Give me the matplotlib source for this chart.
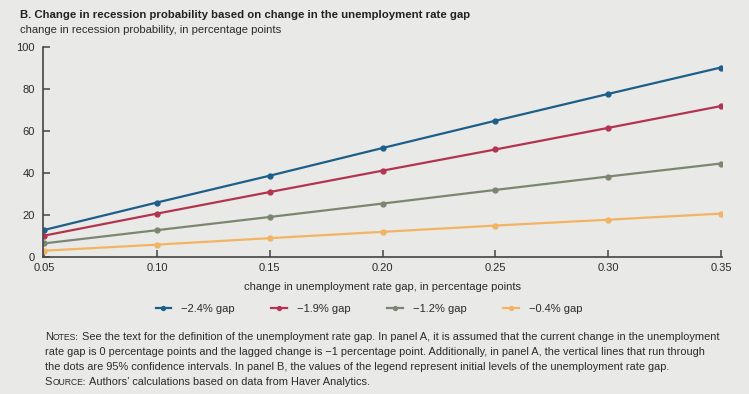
import matplotlib.pyplot as plt
from matplotlib import font_manager

# data
x_change = [0.05, 0.10, 0.15, 0.20, 0.25, 0.30, 0.35]
gap_24 = [12.9, 26.0, 38.8, 52.0, 65.0, 77.8, 90.4]
gap_19 = [10.2, 20.7, 31.0, 41.2, 51.3, 61.6, 72.0]
gap_12 = [6.5, 12.8, 19.1, 25.5, 32.0, 38.4, 44.6]
gap_04 = [3.0, 5.9, 9.0, 12.0, 15.0, 17.8, 20.7]
labels = ['\u22122.4% gap', '\u22121.9% gap', '\u22121.2% gap', '\u22120.4% gap']
colors = ['#1d5f8a', '#b3344f', '#7b8670', '#f2b463']
xticks = [0.05, 0.10, 0.15, 0.20, 0.25, 0.30, 0.35]
yticks = [0, 20, 40, 60, 80, 100]

bg = '#e9e9e7'
ink = '#2b2b2b'
names = {f.name for f in font_manager.fontManager.ttflist}
narrow = 'Liberation Sans Narrow' if 'Liberation Sans Narrow' in names else 'Liberation Sans'
plt.rcParams['font.family'] = ['Liberation Sans', 'DejaVu Sans']

fig = plt.figure(figsize=(7.49, 3.94), dpi=100, facecolor=bg)
ax = fig.add_axes([0.0575, 0.3477, 0.9065, 0.532])
ax.set_facecolor(bg)

for ys, lab, c in zip([gap_24, gap_19, gap_12, gap_04], labels, colors):
    ax.plot(x_change, ys, color=c, lw=1.6, marker='o', ms=3.5, label=lab)

ax.set_xlim(0.0495, 0.3505)
ax.set_ylim(0, 100)
ax.set_xticks(xticks)
ax.set_xticklabels([f'{t:.2f}' for t in xticks])
ax.set_yticks(yticks)
for s in ['top', 'right']:
    ax.spines[s].set_visible(False)
for s in ['left', 'bottom']:
    ax.spines[s].set_color('#444444')
    ax.spines[s].set_linewidth(1.2)
ax.tick_params(direction='in', length=5, width=1.1, color='#444444',
               labelsize=8, labelcolor=ink, pad=4)
ax.tick_params(axis='y', pad=6)
ax.set_xlabel('change in unemployment rate gap, in percentage points',
              fontsize=8, color=ink, labelpad=7)

leg = ax.legend(loc='upper center', bbox_to_anchor=(0.48, -0.175), ncol=4, frameon=False,
                fontsize=8, handlelength=1.4, handletextpad=0.9, columnspacing=3.3,
                labelcolor=ink, markerscale=0.8)

fig.text(0.027, 0.955, 'B. Change in recession probability based on change in the unemployment rate gap',
         fontsize=8.2, fontweight='bold', color='#222222')
fig.text(0.027, 0.915, 'change in recession probability, in percentage points',
         fontsize=8.1, color=ink)

# notes with small-caps style prefix
r = fig.canvas.get_renderer()
notes = ['See the text for the definition of the unemployment rate gap. In panel A, it is assumed that the current change in the unemployment',
         'rate gap is 0 percentage points and the lagged change is \u22121 percentage point. Additionally, in panel A, the vertical lines that run through',
         'the dots are 95% confidence intervals. In panel B, the values of the legend represent initial levels of the unemployment rate gap.']
nfs = 7.9
x0 = 0.06
def smallcaps(word, y):
    t1 = fig.text(x0, y, word[0], fontsize=nfs, family=narrow, color=ink)
    w1 = t1.get_window_extent(r).width / fig.bbox.width
    t2 = fig.text(x0 + w1, y, word[1:].upper() + ':', fontsize=6.2, family=narrow, color=ink)
    w2 = t2.get_window_extent(r).width / fig.bbox.width
    return x0 + w1 + w2 + 0.004

xn = smallcaps('Notes', 0.137)
fig.text(xn, 0.137, notes[0], fontsize=nfs, family=narrow, color=ink)
fig.text(x0, 0.099, notes[1], fontsize=nfs, family=narrow, color=ink)
fig.text(x0, 0.062, notes[2], fontsize=nfs, family=narrow, color=ink)
xs = smallcaps('Source', 0.022)
fig.text(xs, 0.022, 'Authors\u2019 calculations based on data from Haver Analytics.',
         fontsize=nfs, family=narrow, color=ink)

fig.savefig('out.png', dpi=100, facecolor=bg)
